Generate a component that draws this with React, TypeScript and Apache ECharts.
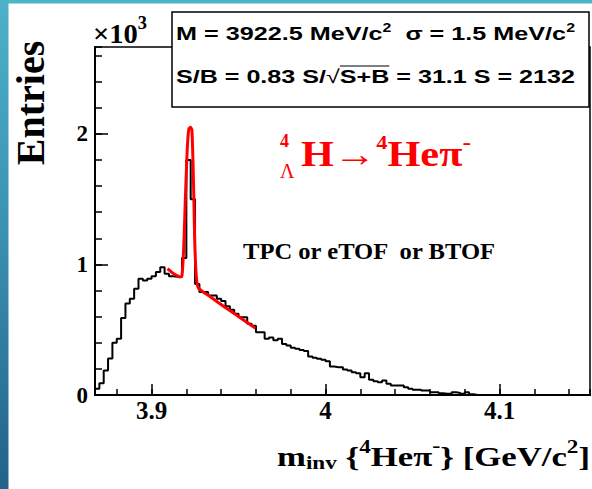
import React, { useEffect, useRef } from "react";
import * as echarts from "echarts";

// Histogram: bins of 2.5 MeV starting at 3.8675 GeV
const binLow = 3.8675;
const binWidth = 0.0025;
const counts = [
  47, 90, 188, 280, 400, 430, 590, 700, 737, 814,
  890, 877, 890, 910, 941, 979, 929, 910, 905, 903,
  1050, 1800, 1500, 850, 788, 788, 762, 762, 737, 720,
  680, 653, 622, 596, 596, 546, 530, 481, 481, 430,
  440, 420, 430, 390, 379, 361, 354, 345, 336, 295,
  285, 277, 270, 259, 218, 213, 213, 195, 188, 175,
  167, 136, 167, 116, 106, 98, 111, 86, 73, 73,
  73, 60, 48, 40, 40, 34, 34, 21, 21, 14,
  9, 9, 21, 16, 9, 21, 5, 0, 0, 0,
  0, 0, 0, 0, 0, 0, 0, 0, 0, 0,
  0, 0, 0, 0, 0, 0, 0, 0, 0, 0,
  0, 0, 0, 0,
];

// Fit curve
const fitX = [
  3.9092, 3.912, 3.9149, 3.9166, 3.9175, 3.9185, 3.9193, 3.9201, 3.9208,
  3.9215, 3.9224, 3.9232, 3.9239, 3.9244, 3.9248, 3.9255, 3.9262, 3.9272,
  3.9338, 3.9424, 3.951, 3.9596,
];
const fitY = [
  967, 935, 912, 903, 915, 1133, 1450, 1746, 1950,
  2040, 2050, 2030, 1746, 1450, 1184, 950, 852, 815,
  752, 670, 592, 512,
];

const xMin = 3.8675;
const xMax = 4.152;
const yMin = 0;
const yMax = 2665;

const SERIF = '"Liberation Serif", "Times New Roman", serif';
const SANS = '"Liberation Sans", Arial, sans-serif';

type Piece = { t: string; s: number; bold?: boolean; dy?: number; fam?: string };

let ctx: CanvasRenderingContext2D | null = null;
function fontOf(p: Piece) {
  return `${p.bold === false ? "" : "bold "}${p.s}px ${p.fam || SERIF}`;
}
function measure(text: string, font: string) {
  if (!ctx) ctx = document.createElement("canvas").getContext("2d");
  ctx!.font = font;
  return ctx!.measureText(text).width;
}

function chain(pieces: Piece[], left: number, right: number, y: number, color: string) {
  const widths = pieces.map((p) => measure(p.t, fontOf(p)));
  const W = widths.reduce((a, b) => a + b, 0);
  const k = (right - left) / W;
  let x = left;
  const els: any[] = [];
  const xs: number[] = [];
  pieces.forEach((p, i) => {
    xs.push(x);
    const trimmed = p.t.replace(/^\s+/, "");
    const lead = measure(p.t.slice(0, p.t.length - trimmed.length), fontOf(p)) * k;
    els.push({
      type: "text", z: 101, x: x + lead, y: y + (p.dy || 0), scaleX: k,
      style: { text: trimmed, font: fontOf(p), fill: color, verticalAlign: "middle", align: "left" },
    });
    x += widths[i] * k;
  });
  xs.push(x);
  return { els, xs, k };
}

export default function App() {
  const ref = useRef<HTMLDivElement>(null);
  useEffect(() => {
    if (!ref.current) return;
    const chart = echarts.init(ref.current, undefined, { renderer: "svg" });
    const histData: number[][] = counts.map((c, i) => [binLow + i * binWidth, c]);
    histData.push([binLow + counts.length * binWidth, counts[counts.length - 1]]);
    const fitData = fitX.map((x, i) => [x, fitY[i]]);

    const stats1 = chain(
      [
        { t: "M = 3922.5 MeV/c", s: 19, fam: SANS },
        { t: "2", s: 12, dy: -6, fam: SANS },
        { t: "  σ = 1.5 MeV/c", s: 19, fam: SANS },
        { t: "2", s: 12, dy: -6, fam: SANS },
      ],
      176, 575, 34, "#000"
    );
    const stats2 = chain(
      [
        { t: "S/B = 0.83 S/", s: 19, fam: SANS },
        { t: "√", s: 19, fam: SANS, bold: false },
        { t: "S+B", s: 19, fam: SANS },
        { t: " = 31.1 S = 2132", s: 19, fam: SANS },
      ],
      176, 575, 77, "#000"
    );
    const times10 = chain(
      [
        { t: "×10", s: 28 },
        { t: "3", s: 18, dy: -11 },
      ],
      93, 147, 34, "#000"
    );
    const formula = chain(
      [
        { t: "H", s: 36 },
        { t: "→", s: 36 },
        { t: "4", s: 19, dy: -11 },
        { t: "Heπ", s: 36 },
        { t: "-", s: 22, dy: -12 },
      ],
      301, 471, 153.3, "#ff0000"
    );
    const detector = chain([{ t: "TPC or eTOF \u00a0or BTOF", s: 23 }], 243, 497, 250.8, "#000");
    const title = chain(
      [
        { t: "m", s: 27 },
        { t: "inv", s: 18, dy: 6 },
        { t: " {", s: 27 },
        { t: "4", s: 18, dy: -10 },
        { t: "Heπ", s: 27 },
        { t: "-", s: 19, dy: -11 },
        { t: "}", s: 27 },
        { t: " [GeV/c", s: 27 },
        { t: "2", s: 18, dy: -10 },
        { t: "]", s: 27 },
      ],
      277, 590, 457, "#000"
    );

    const tickLine = { color: "#000", width: 1.5 };
    const option: any = {
      animation: false,
      grid: {
        left: 95, right: 2, top: 47, bottom: 94,
        show: true, borderColor: "#000", borderWidth: 1.5,
        backgroundColor: "transparent",
      },
      xAxis: [
        {
          type: "value", min: xMin, max: xMax, splitNumber: 3, position: "bottom",
          axisLine: { show: true, onZero: false, lineStyle: { color: "#000", width: 2 } },
          axisTick: { show: true, inside: true, length: 11, lineStyle: tickLine },
          axisLabel: {
            show: true, showMinLabel: false, showMaxLabel: false, margin: 3,
            color: "#000", fontFamily: SERIF, fontWeight: "bold", fontSize: 25,
            formatter: (v: number) => String(Math.round(v * 10) / 10),
          },
          splitLine: { show: false },
        },
        {
          type: "value", min: xMin, max: xMax, splitNumber: 14, position: "bottom",
          axisLine: { show: false, onZero: false },
          axisTick: { show: true, inside: true, length: 6, lineStyle: tickLine },
          axisLabel: { show: false },
          splitLine: { show: false },
        },
      ],
      yAxis: [
        {
          type: "value", min: yMin, max: yMax, splitNumber: 3, position: "left",
          axisLine: { show: true, onZero: false, lineStyle: { color: "#000", width: 2 } },
          axisTick: { show: true, inside: true, length: 13, lineStyle: tickLine },
          axisLabel: {
            show: true, showMaxLabel: false, margin: 7,
            color: "#000", fontFamily: SERIF, fontWeight: "bold", fontSize: 23,
            formatter: (v: number) => String(Math.round(v / 1000)),
          },
          splitLine: { show: false },
        },
        {
          type: "value", min: yMin, max: yMax, splitNumber: 13, position: "left",
          axisLine: { show: false, onZero: false },
          axisTick: { show: true, inside: true, length: 7, lineStyle: tickLine },
          axisLabel: { show: false },
          splitLine: { show: false },
        },
      ],
      series: [
        {
          type: "line", name: "data", step: "end", data: histData,
          xAxisIndex: 0, yAxisIndex: 0,
          symbol: "none", showSymbol: false, clip: true,
          lineStyle: { color: "#000", width: 2 }, z: 3,
        },
        {
          type: "line", name: "fit", data: fitData,
          xAxisIndex: 0, yAxisIndex: 0, smooth: 0.2,
          symbol: "none", showSymbol: false, clip: true,
          lineStyle: { color: "#ff0000", width: 3 }, z: 4,
        },
      ],
      graphic: [
        { type: "rect", z: 100, shape: { x: 0, y: 0, width: 592, height: 3.5 }, style: { fill: "#4fb4ca" } },
        {
          type: "rect", z: 100, shape: { x: 0, y: 0, width: 8.5, height: 489 },
          style: {
            fill: new echarts.graphic.LinearGradient(0, 0, 0, 1, [
              { offset: 0, color: "#4cb1c9" },
              { offset: 0.5, color: "#3a8fb0" },
              { offset: 1, color: "#22618a" },
            ]),
          },
        },
        // stats box
        { type: "rect", z: 100, shape: { x: 172, y: 12, width: 417, height: 95 }, style: { fill: "#fff", stroke: "#000", lineWidth: 1.5 } },
        ...stats1.els,
        ...stats2.els,
        {
          type: "line", z: 101,
          shape: { x1: stats2.xs[2], y1: 66, x2: stats2.xs[3], y2: 66 },
          style: { stroke: "#000", lineWidth: 1.2 },
        },
        ...times10.els,
        // y title
        {
          type: "text", z: 101, x: 30, y: 103, rotation: Math.PI / 2,
          style: { text: "Entries", font: `bold 40px ${SERIF}`, fill: "#000", align: "center", verticalAlign: "middle" },
        },
        // decay formula
        { type: "text", z: 101, x: 280, y: 141, style: { text: "4", font: `bold 18px ${SERIF}`, fill: "#ff0000", verticalAlign: "middle" } },
        { type: "text", z: 101, x: 280, y: 170.5, style: { text: "Λ", font: `20px ${SERIF}`, fill: "#ff0000", verticalAlign: "middle" } },
        ...formula.els,
        ...detector.els,
        ...title.els,
      ],
    };
    chart.setOption(option);
    return () => chart.dispose();
  }, []);
  return (
    <div
      ref={ref}
      style={{ position: "absolute", left: 0, top: 0, width: 592, height: 489, background: "#fff" }}
    />
  );
}
